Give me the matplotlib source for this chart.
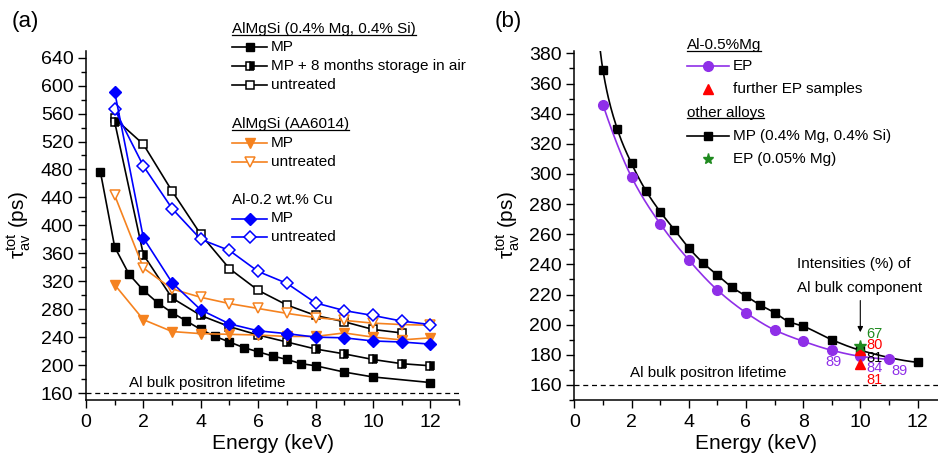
import numpy as np
import matplotlib
matplotlib.use("Agg")
import matplotlib.pyplot as plt
from matplotlib.lines import Line2D
from matplotlib.ticker import MultipleLocator

plt.rcParams['font.family'] = ['Liberation Sans', 'DejaVu Sans']
plt.rcParams['mathtext.fontset'] = 'custom'
plt.rcParams['mathtext.rm'] = 'Liberation Sans'
plt.rcParams['mathtext.it'] = 'Liberation Sans:italic'

W, H = 938, 459

# ---------------- panel (a) data ----------------
mp_x = [0.5, 1, 1.5, 2, 2.5, 3, 3.5, 4, 4.5, 5, 5.5, 6, 6.5, 7, 7.5, 8, 9, 10, 12]
mp_y = [477, 369, 330, 307, 289, 275, 263, 251, 241, 233, 225, 219, 213, 208, 202, 199, 190, 183, 175]

stored_x = [1, 2, 3, 4, 5, 6, 7, 8, 9, 10, 11, 12]
stored_y = [548, 358, 296, 271, 255, 243, 233, 223, 216, 208, 202, 199]

untr_x = [1, 2, 3, 4, 5, 6, 7, 8, 9, 10, 11]
untr_y = [553, 516, 449, 387, 338, 307, 286, 271, 262, 251, 246]

aa_x = [1, 2, 3, 4, 5, 6, 7, 8, 9, 10, 11, 12]
aa_mp_y = [315, 265, 248, 245, 244, 243, 241, 241, 246, 240, 236, 239]
aa_untr_y = [443, 339, 309, 297, 288, 281, 274, 268, 264, 260, 258, 257]

cu_x = [1, 2, 3, 4, 5, 6, 7, 8, 9, 10, 11, 12]
cu_mp_y = [591, 382, 318, 279, 259, 249, 245, 240, 239, 234.5, 233, 230]
cu_untr_y = [566, 485, 424, 380, 364, 334, 317, 289, 278, 271, 263, 258]

bulk_lifetime = 160

# ---------------- panel (b) data ----------------
ep_x = [1, 2, 3, 4, 5, 6, 7, 8, 9, 10, 11]
ep_y = [346, 298, 267, 243, 223, 208, 196.5, 189, 183, 179, 177]

further_x = [10, 10]
further_y = [183, 174]

ep005_x = [10]
ep005_y = [186]

# intensities (%) of the Al bulk component
int_labels = ["67", "80", "81", "84", "81", "89", "89"]
int_pos = [(10.2, 194), (10.2, 186.5), (10.2, 178), (10.2, 171), (10.2, 163), (9.05, 175), (11.1, 169.5)]
int_colors = ["#1f8a1f", "#ff0000", "#000000", "#8f2fe8", "#ff0000", "#8f2fe8", "#8f2fe8"]

ORANGE = "#f5821f"
BLUE = "#0000ff"
PURPLE = "#8f2fe8"
RED = "#ff0000"
GREEN = "#1f8a1f"


def pchip(x, y, n=400):
    x = np.asarray(x, float)
    y = np.asarray(y, float)
    h = np.diff(x)
    delta = np.diff(y) / h
    d = np.zeros_like(y)
    for k in range(1, len(x) - 1):
        if delta[k - 1] * delta[k] > 0:
            w1 = 2 * h[k] + h[k - 1]
            w2 = h[k] + 2 * h[k - 1]
            d[k] = (w1 + w2) / (w1 / delta[k - 1] + w2 / delta[k])

    def end(h0, h1, d0, d1):
        v = ((2 * h0 + h1) * d0 - h0 * d1) / (h0 + h1)
        if np.sign(v) != np.sign(d0):
            v = 0.0
        elif np.sign(d0) != np.sign(d1) and abs(v) > abs(3 * d0):
            v = 3 * d0
        return v

    d[0] = end(h[0], h[1], delta[0], delta[1])
    d[-1] = end(h[-1], h[-2], delta[-1], delta[-2])
    xs = np.linspace(x[0], x[-1], n)
    idx = np.clip(np.searchsorted(x, xs) - 1, 0, len(x) - 2)
    t = (xs - x[idx]) / h[idx]
    h00 = 2 * t**3 - 3 * t**2 + 1
    h10 = t**3 - 2 * t**2 + t
    h01 = -2 * t**3 + 3 * t**2
    h11 = t**3 - t**2
    ys = h00 * y[idx] + h10 * h[idx] * d[idx] + h01 * y[idx + 1] + h11 * h[idx] * d[idx + 1]
    return xs, ys


def fx(px):
    return px / W


def fy(py):
    return 1 - py / H


fig = plt.figure(figsize=(W / 100, H / 100), dpi=100)

axL = fig.add_axes([fx(86), fy(400), (459 - 86) / W, (400 - 50.7) / H])
axR = fig.add_axes([fx(574.3), fy(400), (937.5 - 574.3) / W, (400 - 50.7) / H])

for ax in (axL, axR):
    for s in ('top', 'right'):
        ax.spines[s].set_visible(False)
    for s in ('left', 'bottom'):
        ax.spines[s].set_linewidth(1.1)
    ax.tick_params(which='major', direction='out', length=6, width=1.0, labelsize=14, pad=3)
    ax.tick_params(which='minor', direction='out', length=3.5, width=1.0)
    ax.tick_params(axis='x', pad=4)
    ax.xaxis.set_major_locator(MultipleLocator(2))
    ax.xaxis.set_minor_locator(MultipleLocator(1))
    ax.set_xlabel("Energy (keV)", fontsize=15, labelpad=2)
    ax.set_ylabel(r"$\mathrm{τ}_{\rm av}^{\rm tot}$ (ps)", fontsize=15, labelpad=6)

# ---------------- panel (a) ----------------
axL.set_xlim(0, 13)
axL.set_ylim(150, 650)
axL.yaxis.set_major_locator(MultipleLocator(40))
axL.yaxis.set_minor_locator(MultipleLocator(20))
axL.axhline(bulk_lifetime, color='k', ls=(0, (4, 3)), lw=0.9)
axL.text(1.5, 174, "Al bulk positron lifetime", fontsize=11, va='center', ha='left')

lw = 1.2
axL.plot(untr_x, untr_y, color='k', lw=lw, marker='s', ms=5.5, mfc='white', mec='k', mew=1.1)
axL.plot(stored_x, stored_y, color='k', lw=lw, marker='s', ms=5.5, fillstyle='right',
         mfc='k', mfcalt='white', mec='k', mew=1.1)
axL.plot(mp_x, mp_y, color='k', lw=lw, marker='s', ms=5.5, mfc='k', mec='k')
axL.plot(aa_x, aa_untr_y, color=ORANGE, lw=lw, marker='v', ms=7, mfc='white', mec=ORANGE, mew=1.1)
axL.plot(aa_x, aa_mp_y, color=ORANGE, lw=lw, marker='v', ms=7, mfc=ORANGE, mec=ORANGE)
axL.plot(cu_x, cu_untr_y, color=BLUE, lw=lw, marker='D', ms=6, mfc='white', mec=BLUE, mew=1.1)
axL.plot(cu_x, cu_mp_y, color=BLUE, lw=lw, marker='D', ms=6, mfc=BLUE, mec=BLUE)

# ---------------- panel (b) ----------------
axR.set_xlim(0, (937.5 - 574.3) / 28.6)
axR.set_ylim(150, 150 + 349.3 / 1.507)
axR.yaxis.set_major_locator(MultipleLocator(20))
axR.yaxis.set_minor_locator(MultipleLocator(10))
axR.axhline(bulk_lifetime, color='k', ls=(0, (4, 3)), lw=0.9)
axR.text(1.95, 168, "Al bulk positron lifetime", fontsize=11, va='center', ha='left')

sx, sy = pchip(mp_x, mp_y)
axR.plot(sx, sy, color='k', lw=1.2)
axR.plot(mp_x, mp_y, ls='none', marker='s', ms=6, mfc='k', mec='k')
ex, ey = pchip(ep_x, ep_y)
axR.plot(ex, ey, color=PURPLE, lw=1.2)
axR.plot(ep_x, ep_y, ls='none', marker='o', ms=7, mfc=PURPLE, mec=PURPLE)
axR.plot(further_x, further_y, ls='none', marker='^', ms=7, mfc=RED, mec=RED)
axR.plot(ep005_x, ep005_y, ls='none', marker='*', ms=9, mfc=GREEN, mec=GREEN)

for lab, (x, y), c in zip(int_labels, int_pos, int_colors):
    axR.text(x, y, lab, color=c, fontsize=10.5, ha='left' if x >= 10 else 'center', va='center')

axR.text(7.78, 240, "Intensities (%) of", fontsize=11, va='center', ha='left')
axR.text(7.78, 224.6, "Al bulk component", fontsize=11, va='center', ha='left')
axR.annotate('', xy=(10, 195), xytext=(10, 216),
             arrowprops=dict(arrowstyle='-|>', color='k', lw=0.8, mutation_scale=8,
                             shrinkA=0, shrinkB=0))

# ---------------- panel labels ----------------
fig.text(fx(12), fy(22), "(a)", fontsize=16, va='center', ha='left')
fig.text(fx(495), fy(22), "(b)", fontsize=16, va='center', ha='left')

# ---------------- legends ----------------
headers = []


def header(px, py, s):
    t = fig.text(fx(px), fy(py), s, fontsize=11, va='center', ha='left')
    headers.append(t)


def entry(px0, px1, py, text_px, s, line=True, **mk):
    if line:
        fig.add_artist(Line2D([fx(px0), fx(px1)], [fy(py), fy(py)], transform=fig.transFigure,
                              color=mk.get('color', 'k'), lw=1.2))
    m = dict(mk)
    m.pop('color', None)
    fig.add_artist(Line2D([fx((px0 + px1) / 2)], [fy(py)], transform=fig.transFigure,
                          ls='none', **m))
    fig.text(fx(text_px), fy(py), s, fontsize=11, va='center', ha='left')


header(232, 29.5, "AlMgSi (0.4% Mg, 0.4% Si)")
entry(232, 267, 47, 271, "MP", marker='s', ms=5.5, mfc='k', mec='k')
entry(232, 267, 66, 271, "MP + 8 months storage in air", marker='s', ms=5.5, fillstyle='right',
      mfc='k', mfcalt='white', mec='k', mew=1.1)
entry(232, 267, 85, 271, "untreated", marker='s', ms=5.5, mfc='white', mec='k', mew=1.1)
header(232, 124, "AlMgSi (AA6014)")
entry(232, 267, 143, 271, "MP", color=ORANGE, marker='v', ms=7, mfc=ORANGE, mec=ORANGE)
entry(232, 267, 161.5, 271, "untreated", color=ORANGE, marker='v', ms=7, mfc='white', mec=ORANGE, mew=1.1)
fig.text(fx(232), fy(200), "Al-0.2 wt.% Cu", fontsize=11, va='center', ha='left')
entry(232, 267, 218.5, 271, "MP", color=BLUE, marker='D', ms=6, mfc=BLUE, mec=BLUE)
entry(232, 267, 237, 271, "untreated", color=BLUE, marker='D', ms=6, mfc='white', mec=BLUE, mew=1.1)

header(686.5, 45, "Al-0.5%Mg")
entry(686.5, 728.5, 65.7, 733, "EP", color=PURPLE, marker='o', ms=7, mfc=PURPLE, mec=PURPLE)
entry(686.5, 728.5, 89, 733, "further EP samples", line=False, marker='^', ms=7, mfc=RED, mec=RED)
header(686.5, 112.5, "other alloys")
entry(686.5, 728.5, 136, 733, "MP (0.4% Mg, 0.4% Si)", marker='s', ms=6, mfc='k', mec='k')
entry(686.5, 728.5, 159, 733, "EP (0.05% Mg)", line=False, marker='*', ms=8, mfc=GREEN, mec=GREEN)

# underline the group headers
fig.canvas.draw()
renderer = fig.canvas.get_renderer()
inv = fig.transFigure.inverted()
for t in headers:
    bb = t.get_window_extent(renderer)
    (x0, y0), (x1, y1) = inv.transform([(bb.x0, bb.y0), (bb.x1, bb.y1)])
    yl = y0 + 0.1 * (y1 - y0)
    fig.add_artist(Line2D([x0, x1], [yl, yl], transform=fig.transFigure, color='k', lw=0.9))

fig.savefig("out.png", dpi=100)
